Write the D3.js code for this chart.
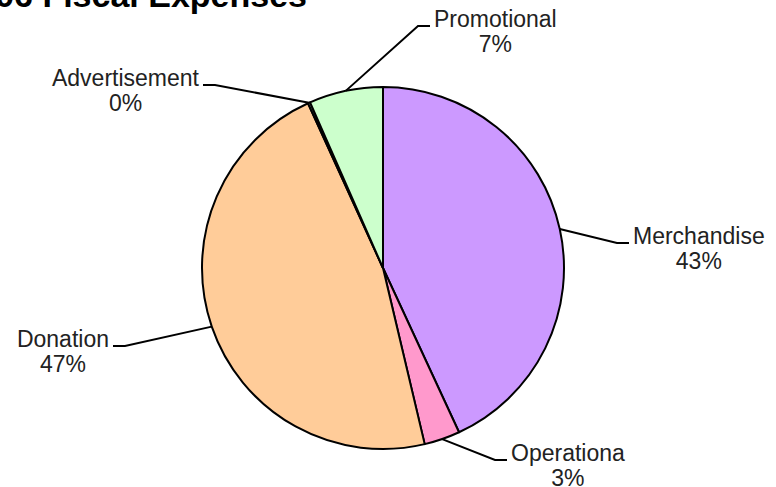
<!DOCTYPE html>
<html>
<head>
<meta charset="utf-8">
<script src="https://cdn.jsdelivr.net/npm/d3@7"></script>
<style>
  body { margin: 0; background: #fff; }
  text { font-family: "Liberation Sans", Arial, sans-serif; }
</style>
</head>
<body>
<script>
// slices, clockwise from 12 o'clock
var categories = ["Merchandise", "Operationa", "Donation", "Advertisement", "Promotional"];
var values = [43.1, 3.2, 46.9, 0.2, 6.6];   // percent of total
var colors = ["#cc99ff", "#ff99cc", "#ffcc99", "#ccffff", "#ccffcc"];

// label layout: elbow of the leader line (relative to pie centre) and side
var labelElbow = [[234, -25], [112, 192], [-258, 78], [-168, -183], [35, -242]];
var labelSide = [1, 1, -1, -1, 1];

var width = 776, height = 487;
var cx = 383, cy = 268, radius = 181;

var svg = d3.select("body")
    .append("svg")
    .attr("width", width)
    .attr("height", height);

// title is mostly cut off by the top edge
svg.append("text")
    .attr("x", 307)
    .attr("y", 7)
    .attr("text-anchor", "end")
    .attr("font-size", 34)
    .attr("font-weight", "bold")
    .text("2006 Fiscal Expenses");

var g = svg.append("g")
    .attr("transform", "translate(" + cx + "," + cy + ")");

var data = categories.map(function (c, i) { return { name: c, value: values[i], i: i }; });

var pie = d3.pie()
    .sort(null)
    .value(function (d) { return d.value; });

var arc = d3.arc().innerRadius(0).outerRadius(radius);

var arcs = pie(data);

g.selectAll("path.slice")
    .data(arcs)
    .enter().append("path")
    .attr("class", "slice")
    .attr("d", arc)
    .attr("fill", function (d) { return colors[d.data.i]; })
    .attr("stroke", "#000")
    .attr("stroke-width", 2)
    .attr("stroke-linejoin", "round");

// leader lines + labels
arcs.forEach(function (d) {
    var i = d.data.i;
    var mid = (d.startAngle + d.endAngle) / 2;
    var sx = radius * Math.sin(mid), sy = -radius * Math.cos(mid);
    var ex = labelElbow[i][0], ey = labelElbow[i][1];
    var side = labelSide[i];
    var hx = ex + side * 12;

    g.append("path")
        .attr("d", d3.line()([[sx, sy], [ex, ey], [hx, ey]]))
        .attr("fill", "none")
        .attr("stroke", "#000")
        .attr("stroke-width", 2);

    var t = g.append("text")
        .attr("x", hx + side * 4)
        .attr("y", ey + 1)
        .attr("text-anchor", side > 0 ? "start" : "end")
        .attr("font-size", 23)
        .attr("fill", "#222")
        .text(d.data.name);

    var w = t.node().getComputedTextLength();
    var centre = side > 0 ? hx + 4 + w / 2 : hx - 4 - w / 2;

    g.append("text")
        .attr("x", centre)
        .attr("y", ey + 26)
        .attr("text-anchor", "middle")
        .attr("font-size", 23)
        .attr("fill", "#222")
        .text(Math.round(d.data.value) + "%");
});
</script>
</body>
</html>
